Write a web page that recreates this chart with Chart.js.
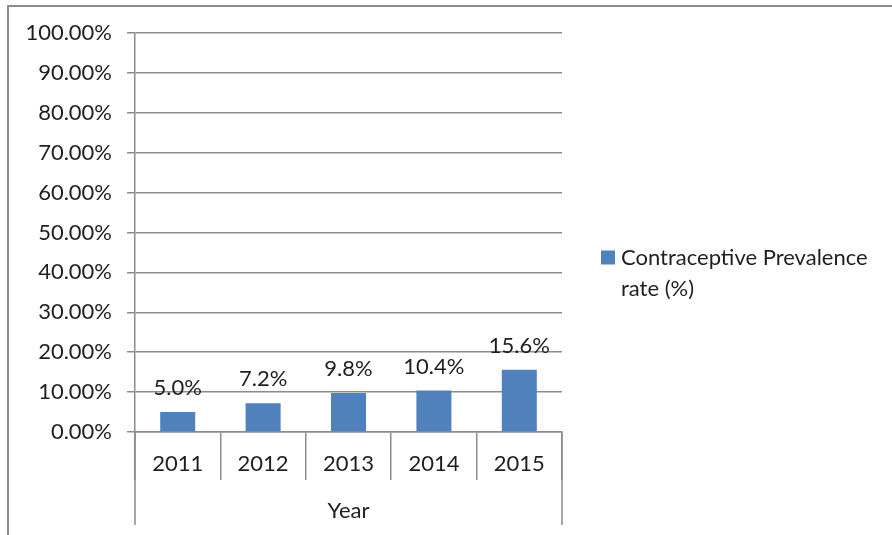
<!DOCTYPE html>
<html>
<head>
<meta charset="utf-8">
<script src="https://cdn.jsdelivr.net/npm/chart.js@4"></script>
<style>
  body { margin: 0; background: #fff; }
  #wrap { width: 892px; height: 535px; }
</style>
</head>
<body>
<div id="wrap"><canvas id="cprChart"></canvas></div>
<script>
// data
const years = ["2011", "2012", "2013", "2014", "2015"];
const cprValues = [5.0, 7.2, 9.8, 10.4, 15.6];
const seriesLabel = "Contraceptive Prevalence rate (%)";
const legendLines = ["Contraceptive Prevalence", "rate (%)"];
const axisTitle = "Year";

const FONT = "Lato";
const FSIZE = 22;
const TEXT = "#1f1f1f";
const LINE = "#8c8c8c";
const BAR = "#4F81BD";

// frame + Excel-style outer category dividers + legend + value labels
const extras = {
  id: "extras",
  beforeDraw(chart) {
    const c = chart.ctx;
    c.save();
    c.fillStyle = "#fff";
    c.fillRect(0, 0, chart.width, chart.height);
    c.strokeStyle = LINE;
    c.lineWidth = 2;
    c.beginPath();
    c.moveTo(8, chart.height);
    c.lineTo(8, 6);
    c.lineTo(chart.width, 6);
    c.stroke();
    c.restore();
  },
  afterDraw(chart) {
    const c = chart.ctx;
    const a = chart.chartArea;
    c.save();
    // outer dividers run down past the year title
    c.strokeStyle = LINE;
    c.lineWidth = 1.5;
    c.beginPath();
    [a.left, a.right].forEach(x => {
      c.moveTo(x, a.bottom);
      c.lineTo(x, a.bottom + 93);
    });
    c.stroke();

    // value labels
    c.fillStyle = TEXT;
    c.font = FSIZE + "px " + FONT;
    c.textAlign = "center";
    c.textBaseline = "alphabetic";
    chart.getDatasetMeta(0).data.forEach((bar, i) => {
      c.fillText(cprValues[i].toFixed(1) + "%", bar.x, bar.y - 17);
    });

    // legend (sits a bit below the middle of the plot, like Excel's right legend)
    const lx = a.right + 39;
    const ly = (a.top + a.bottom) / 2 + 25;
    c.fillStyle = BAR;
    c.fillRect(lx, ly - 7, 14, 14);
    c.fillStyle = TEXT;
    c.textAlign = "left";
    c.textBaseline = "middle";
    legendLines.forEach((t, i) => c.fillText(t, lx + 20, ly + i * 31));
    c.restore();
  }
};

new Chart(document.getElementById("cprChart"), {
  type: "bar",
  data: {
    labels: years,
    datasets: [{
      label: seriesLabel,
      data: cprValues,
      backgroundColor: BAR,
      categoryPercentage: 1,
      barPercentage: 0.41
    }]
  },
  options: {
    responsive: true,
    maintainAspectRatio: false,
    animation: false,
    layout: { padding: { top: 33, right: 330, left: 0, bottom: 0 } },
    plugins: {
      legend: { display: false },
      tooltip: { enabled: false }
    },
    scales: {
      x: {
        offset: true,
        grid: {
          offset: true,
          drawOnChartArea: false,
          drawTicks: true,
          tickLength: 48,
          color: LINE,
          lineWidth: 1.5
        },
        border: { color: LINE, width: 1.5 },
        ticks: { color: TEXT, font: { family: FONT, size: FSIZE }, padding: -29, maxRotation: 0 },
        title: {
          display: true,
          text: axisTitle,
          color: TEXT,
          font: { family: FONT, size: FSIZE },
          padding: { top: 0, bottom: 11 }
        },
        afterFit(scale) { scale.height = 103; }
      },
      y: {
        min: 0,
        max: 100,
        ticks: {
          stepSize: 10,
          color: TEXT,
          font: { family: FONT, size: FSIZE },
          padding: 15,
          callback: v => v.toFixed(2) + "%"
        },
        grid: { color: LINE, lineWidth: 1.5, tickLength: 8 },
        border: { color: LINE, width: 1.5 },
        afterFit(scale) { scale.width = 135; }
      }
    }
  },
  plugins: [extras]
});
</script>
</body>
</html>
